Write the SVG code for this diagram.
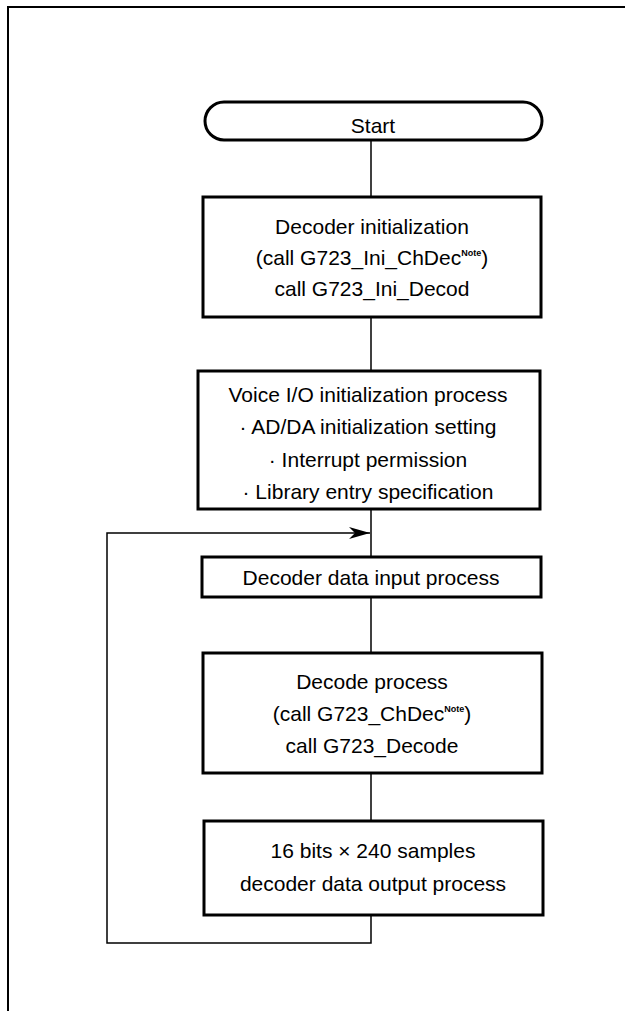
<svg xmlns="http://www.w3.org/2000/svg" width="625" height="1011" viewBox="0 0 625 1011">
<defs>
<style>
.box{fill:#fff;stroke:#000;stroke-width:3}
.ln{fill:none;stroke:#000;stroke-width:1.5}
.t{font-family:"Liberation Sans",Arial,sans-serif;font-size:21px;fill:#000;text-anchor:middle}
.sup{font-size:9px;font-weight:bold}
</style>
<marker id="arr" markerWidth="22" markerHeight="12" refX="21" refY="6" orient="auto" markerUnits="userSpaceOnUse">
<path d="M0,0 L21,6 L0,12 L6,6 Z" fill="#000"/>
</marker>
</defs>
<rect width="625" height="1011" fill="#fff"/>
<path d="M8,1011 V7 H625" fill="none" stroke="#000" stroke-width="2"/>
<g id="connectors">
<line class="ln" x1="371" y1="140" x2="371" y2="197"/>
<line class="ln" x1="371" y1="317" x2="371" y2="371"/>
<line class="ln" x1="371" y1="509" x2="371" y2="557"/>
<line class="ln" x1="371" y1="597" x2="371" y2="653"/>
<line class="ln" x1="371" y1="773" x2="371" y2="821"/>
<polyline class="ln" points="371,915 371,943 107,943 107,533 370,533" marker-end="url(#arr)"/>
</g>
<g id="start">
<rect class="box" x="205" y="102" width="337" height="38" rx="19" ry="19"/>
<text class="t" x="373" y="133">Start</text>
</g>
<g id="decoder-init">
<rect class="box" x="203" y="197" width="338" height="120"/>
<text class="t" x="372" y="234">Decoder initialization</text>
<text class="t" x="372" y="265">(call G723_Ini_ChDec<tspan class="sup" dy="-9">Note</tspan><tspan dy="9">)</tspan></text>
<text class="t" x="372" y="296">call G723_Ini_Decod</text>
</g>
<g id="voice-init">
<rect class="box" x="198" y="371" width="342" height="138"/>
<text class="t" x="368" y="402">Voice I/O initialization process</text>
<text class="t" x="368" y="434">· AD/DA initialization setting</text>
<text class="t" x="368" y="467">· Interrupt permission</text>
<text class="t" x="368" y="499">· Library entry specification</text>
</g>
<g id="data-input">
<rect class="box" x="202" y="557" width="339" height="40"/>
<text class="t" x="371" y="585">Decoder data input process</text>
</g>
<g id="decode">
<rect class="box" x="203" y="653" width="339" height="120"/>
<text class="t" x="372" y="689">Decode process</text>
<text class="t" x="372" y="721">(call G723_ChDec<tspan class="sup" dy="-9">Note</tspan><tspan dy="9">)</tspan></text>
<text class="t" x="372" y="753">call G723_Decode</text>
</g>
<g id="data-output">
<rect class="box" x="204" y="821" width="339" height="94"/>
<text class="t" x="373" y="858">16 bits × 240 samples</text>
<text class="t" x="373" y="891">decoder data output process</text>
</g>
</svg>
